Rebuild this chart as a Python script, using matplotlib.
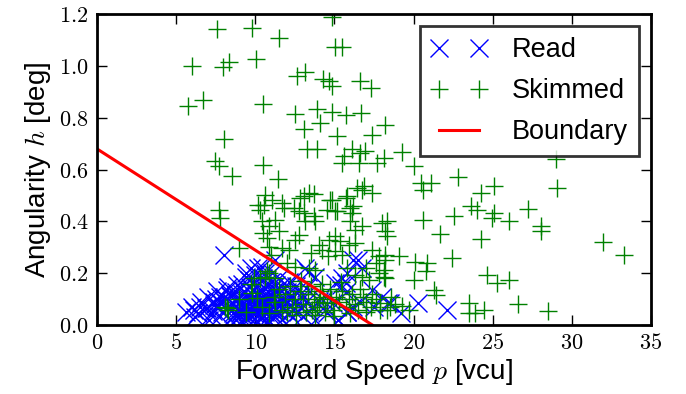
import matplotlib
matplotlib.use("Agg")
import matplotlib.pyplot as plt
from matplotlib.ticker import FuncFormatter

plt.rcParams['font.family'] = ['Liberation Sans', 'DejaVu Sans']
plt.rcParams['mathtext.fontset'] = 'cm'

# ---- data ----
read_x = [6.2, 7.1, 7.8, 8.4, 8.9, 9.3, 9.7, 10.0, 10.4, 10.8, 11.2, 11.7, 12.3, 13.0, 13.8, 15.2,
          5.6, 6.4, 7.3, 7.9, 8.6, 9.1, 9.5, 9.9, 10.2, 10.6, 11.0, 11.5, 12.1, 12.7, 13.4, 14.5, 15.8,
          6.0, 6.9, 7.6, 8.2, 8.8, 9.2, 9.6, 10.0, 10.3, 10.7, 11.1, 11.6, 12.2, 12.9, 13.6, 14.3, 16.2, 17.5,
          6.6, 7.4, 8.0, 8.5, 9.0, 9.4, 9.8, 10.2, 10.5, 10.9, 11.4, 11.9, 12.5, 13.2, 14.0, 14.9, 16.6, 18.4,
          7.0, 7.8, 8.4, 9.0, 9.5, 9.9, 10.4, 10.9, 11.3, 11.8, 12.4, 13.1, 14.3, 18.0,
          7.6, 8.2, 8.8, 9.3, 9.8, 10.3, 10.8, 11.4, 12.0, 12.7, 13.2, 15.7, 17.4,
          8.3, 8.85, 9.15, 9.6, 10.1, 10.7, 11.3, 12.1, 13.8, 15.06, 15.4, 15.7, 8.0, 8.4,
          8.0, 11.27, 9.7, 10.2, 10.4, 11.06, 13.16, 13.35, 16.2, 16.5, 16.75, 15.8, 15.5,
          20.3, 22.1, 18.5, 19.2, 6.1, 6.5, 6.95, 7.36, 7.78, 15.8, 15.2,
          8.7, 9.0, 9.2, 9.45, 9.7, 9.95, 10.15, 10.45, 10.65, 10.95, 11.25, 8.9, 9.35, 9.85, 10.35, 10.85,
          8.55, 8.75, 9.05, 9.25, 9.55, 9.75, 10.05, 10.25, 10.55, 10.75, 11.05, 11.35, 11.55, 11.85, 12.15,
          9.15, 9.65, 10.15, 10.6, 11.1, 11.6, 12.4, 12.9, 9.4, 9.9, 10.5, 11.0, 11.5, 12.0, 7.2, 7.5,
          10.0, 10.6, 11.2, 9.4, 12.6]
read_y = [0.03, 0.02, 0.035, 0.025, 0.03, 0.02, 0.035, 0.025, 0.03, 0.02, 0.035, 0.025, 0.03, 0.035, 0.02, 0.02,
          0.05, 0.045, 0.055, 0.05, 0.048, 0.055, 0.05, 0.045, 0.055, 0.05, 0.048, 0.052, 0.045, 0.05, 0.055, 0.048, 0.05,
          0.07, 0.065, 0.072, 0.068, 0.075, 0.07, 0.065, 0.072, 0.068, 0.075, 0.07, 0.065, 0.072, 0.068, 0.07, 0.065, 0.07, 0.068,
          0.088, 0.09, 0.092, 0.085, 0.09, 0.095, 0.088, 0.09, 0.092, 0.086, 0.09, 0.094, 0.088, 0.09, 0.092, 0.086, 0.09, 0.084,
          0.11, 0.108, 0.112, 0.105, 0.11, 0.114, 0.108, 0.11, 0.112, 0.106, 0.11, 0.108, 0.097, 0.11,
          0.13, 0.136, 0.128, 0.132, 0.135, 0.128, 0.132, 0.13, 0.126, 0.134, 0.143, 0.129, 0.136,
          0.145, 0.155, 0.16, 0.174, 0.15, 0.16, 0.155, 0.165, 0.187, 0.162, 0.155, 0.161, 0.11, 0.116,
          0.27, 0.25, 0.22, 0.22, 0.226, 0.2, 0.22, 0.205, 0.25, 0.25, 0.219, 0.2, 0.181,
          0.084, 0.058, 0.084, 0.045, 0.058, 0.071, 0.065, 0.077, 0.09, 0.05, 0.02,
          0.04, 0.06, 0.08, 0.04, 0.06, 0.08, 0.04, 0.06, 0.08, 0.04, 0.06, 0.1, 0.03, 0.1, 0.03, 0.1,
          0.06, 0.02, 0.045, 0.065, 0.03, 0.1, 0.055, 0.085, 0.035, 0.11, 0.075, 0.04, 0.08, 0.06, 0.1,
          0.12, 0.145, 0.12, 0.14, 0.125, 0.15, 0.06, 0.11, 0.185, 0.17, 0.18, 0.165, 0.18, 0.15, 0.04, 0.1,
          0.195, 0.2, 0.13, 0.2, 0.15]

skim_x = [7.58, 9.79, 11.48, 14.85, 15.06, 15.49, 5.99, 7.96, 8.37, 10.04, 12.64, 13.16, 14.28, 14.64, 14.85,
          16.6, 17.34, 5.72, 6.69, 10.46, 12.49, 13.9, 14.85, 15.7, 16.7, 13.06, 14.1, 15.17, 17.4, 18.2,
          8.0, 13.27, 13.9, 15.6, 16.1, 16.6, 16.96, 15.49, 16.54, 17.7, 18.1, 7.47, 7.68, 10.46,
          19.3, 20.0, 29.0, 29.03, 20.44, 21.08, 20.6, 22.8, 24.24, 25.08, 23.6, 24.03, 25.08, 24.98, 26.03,
          27.2, 28.04, 28.04, 18.3, 18.3, 20.6, 22.55, 21.7, 24.24, 31.94, 33.3, 18.2, 19.07, 20.1, 20.86,
          20.76, 22.45, 18.1, 18.1, 20.0, 24.66, 25.3, 26.03, 21.3, 21.4, 26.6, 28.5, 23.5, 23.5, 23.9,
          24.45, 18.5, 17.9,
          8.52, 11.43, 16.86, 17.39, 10.63, 11.06, 10.2, 11.69, 10.32, 13.37, 13.06, 12.74, 13.16, 12.42,
          14.85, 15.06, 15.8, 16.0, 7.68, 7.78, 10.42, 10.84, 11.27, 13.8, 16.0, 16.3, 16.75, 18.0, 18.2,
          10.5, 10.74, 11.48, 12.74, 12.53, 14.64, 15.06, 15.38, 15.9, 16.3, 8.94, 10.84, 11.69, 12.1,
          14.2, 14.6, 15.06, 15.5, 17.4, 17.8, 18.2, 17.6, 12.53, 13.37, 13.8, 10.84, 11.27, 16.3, 16.75,
          17.2, 17.8, 18.2, 9.9, 9.7, 10.3, 9.8, 10.1, 8.2, 8.3, 8.1, 11.27, 11.69, 10.84, 10.74, 10.63,
          16.45, 16.75, 13.7, 12.85, 14.75, 15.7, 16.2, 16.1, 13.06, 13.7, 14.55, 15.17, 10.55, 11.8,
          11.5, 11.9, 12.2, 12.5, 12.8, 13.0, 13.3, 13.5, 13.7, 13.9, 14.1, 14.3, 14.5, 14.7, 14.9,
          15.1, 15.3, 15.5, 15.7, 15.9, 16.1, 16.3, 16.5, 16.8, 17.0, 17.3, 17.6, 17.9, 18.3, 18.8,
          19.3, 12.0, 12.6, 13.2, 13.8, 14.4, 15.0, 16.0, 17.0, 12.3, 11.2, 13.6, 14.0, 14.8, 16.6,
          17.4, 18.6, 19.7, 12.9, 14.2, 15.4, 9.0, 9.4, 10.4, 13.5, 14.0, 11.0, 12.0, 15.8, 17.0]
skim_y = [1.143, 1.147, 1.108, 1.19, 1.072, 1.072, 1.001, 0.997, 1.014, 1.027, 0.962, 0.975, 0.95, 0.943, 0.924,
          0.943, 0.915, 0.846, 0.868, 0.853, 0.814, 0.833, 0.823, 0.81, 0.82, 0.757, 0.781, 0.73, 0.732, 0.771,
          0.717, 0.678, 0.678, 0.652, 0.678, 0.665, 0.672, 0.626, 0.624, 0.626, 0.645, 0.633, 0.613, 0.616,
          0.668, 0.615, 0.64, 0.529, 0.549, 0.549, 0.523, 0.572, 0.51, 0.536, 0.458, 0.446, 0.433, 0.413, 0.4,
          0.448, 0.384, 0.362, 0.4, 0.342, 0.404, 0.422, 0.352, 0.331, 0.319, 0.271, 0.271, 0.265, 0.245, 0.239,
          0.207, 0.258, 0.213, 0.187, 0.174, 0.194, 0.161, 0.174, 0.136, 0.116, 0.081, 0.055, 0.084, 0.045, 0.045,
          0.058, 0.071, 0.058,
          0.575, 0.562, 0.536, 0.51, 0.503, 0.484, 0.465, 0.471, 0.446, 0.51, 0.497, 0.439, 0.4, 0.452,
          0.484, 0.439, 0.497, 0.452, 0.446, 0.413, 0.4, 0.381, 0.407, 0.4, 0.4, 0.368, 0.381, 0.394, 0.362,
          0.355, 0.336, 0.362, 0.349, 0.329, 0.329, 0.342, 0.323, 0.31, 0.316, 0.297, 0.303, 0.297, 0.29,
          0.29, 0.265, 0.284, 0.271, 0.29, 0.265, 0.252, 0.239, 0.226, 0.219, 0.213, 0.2, 0.181, 0.194, 0.187,
          0.174, 0.2, 0.181, 0.18, 0.16, 0.18, 0.123, 0.103, 0.065, 0.058, 0.071, 0.09, 0.058, 0.045, 0.207, 0.187,
          0.53, 0.52, 0.505, 0.49, 0.484, 0.49, 0.458, 0.433, 0.433, 0.42, 0.446, 0.439, 0.465, 0.452,
          0.14, 0.12, 0.15, 0.1, 0.13, 0.08, 0.12, 0.15, 0.1, 0.07, 0.13, 0.11, 0.085, 0.14, 0.06,
          0.11, 0.09, 0.13, 0.07, 0.1, 0.12, 0.08, 0.06, 0.11, 0.09, 0.07, 0.1, 0.085, 0.06, 0.08,
          0.075, 0.05, 0.04, 0.05, 0.04, 0.05, 0.035, 0.045, 0.05, 0.07, 0.11, 0.06, 0.09, 0.1, 0.14,
          0.12, 0.11, 0.06, 0.17, 0.16, 0.165, 0.1, 0.05, 0.07, 0.28, 0.31, 0.27, 0.24, 0.22, 0.22]

boundary_x = [0.0, 17.4]
boundary_y = [0.68, 0.0]

x_ticks = [0, 5, 10, 15, 20, 25, 30, 35]
y_ticks = [0.0, 0.2, 0.4, 0.6, 0.8, 1.0, 1.2]

# ---- figure ----
fig = plt.figure(figsize=(6.86, 3.94), dpi=100)
ax = fig.add_axes([0.1414, 0.175, 0.8076, 0.789])

ax.plot(read_x, read_y, linestyle='none', marker='x', color='b', markersize=12.5,
        markeredgewidth=1.0, label='Read')
ax.plot(skim_x, skim_y, linestyle='none', marker='+', color='g', markersize=12.5,
        markeredgewidth=1.0, label='Skimmed')
ax.plot(boundary_x, boundary_y, color='r', linewidth=2.2, label='Boundary')

ax.set_xlim(0, 35)
ax.set_ylim(0, 1.2)
ax.set_xticks(x_ticks)
ax.set_yticks(y_ticks)
ax.xaxis.set_major_formatter(FuncFormatter(lambda v, p: r'$%d$' % v))
ax.yaxis.set_major_formatter(FuncFormatter(lambda v, p: r'$%.1f$' % v))
ax.tick_params(direction='in', top=True, right=True, length=7, width=1, labelsize=16, pad=6)
for s in ax.spines.values():
    s.set_linewidth(2)

ax.set_xlabel(r'Forward Speed $p$ [vcu]', fontsize=20, labelpad=2)
ax.set_ylabel(r'Angularity $h$ [deg]', fontsize=20, labelpad=4)

leg = ax.legend(loc='upper right', numpoints=2, fontsize=19.5, fancybox=False,
                borderaxespad=0.45, handlelength=2.1, handletextpad=0.9,
                labelspacing=0.55, borderpad=0.4)
leg.get_frame().set_edgecolor('black')
leg.get_frame().set_linewidth(2)

fig.savefig('out.png', dpi=100)
